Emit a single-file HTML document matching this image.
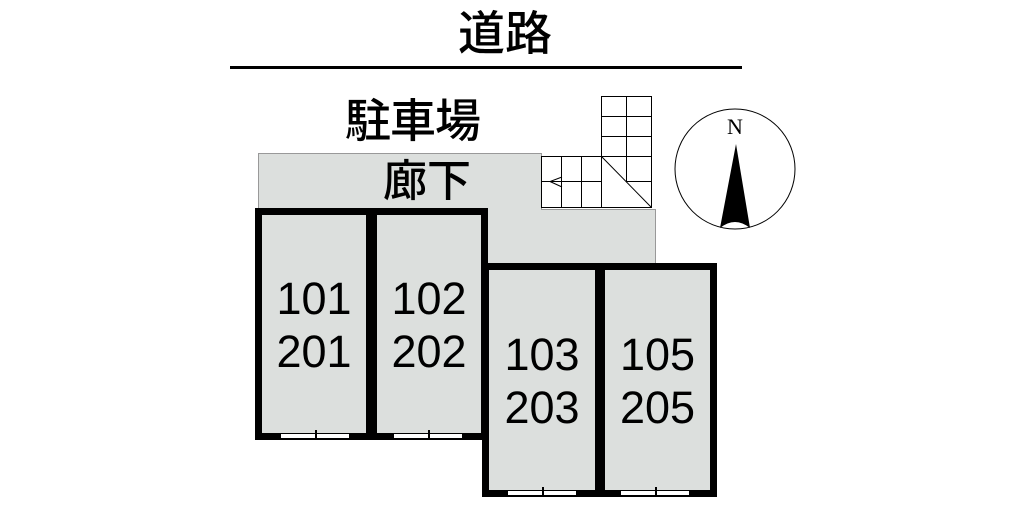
<!DOCTYPE html>
<html><head><meta charset="utf-8"><style>
body{margin:0;width:1024px;height:512px;background:#fff;position:relative;overflow:hidden;font-family:"Liberation Sans","Noto Sans CJK JP",sans-serif}
.a{position:absolute}
.g{background:#dcdfdd}
.u{position:absolute;background:#dcdfdd;border:7px solid #000;box-sizing:border-box}
.t{position:absolute;font-size:45px;line-height:53px;text-align:center;color:#000}
.d{position:absolute;height:6px;background:#fff;border:1.5px solid #000;box-sizing:border-box}
.d:after{content:"";position:absolute;left:50%;top:-4px;width:1.5px;height:10px;background:#000}
.k{font-weight:500}
</style></head><body>
<div class="a" style="left:230px;top:66px;width:512px;height:3px;background:#000"></div>
<div class="a k" style="left:458px;top:6px;font-size:47px;line-height:56px">道路</div>
<div class="a k" style="left:345px;top:94px;font-size:46px;line-height:54px;letter-spacing:-1px">駐車場</div>
<div class="a g" style="left:258px;top:153px;width:284px;height:58px;border:1px solid #999;box-sizing:border-box"></div>
<div class="a g" style="left:488px;top:209px;width:167px;height:56px;border-right:1px solid #999"></div>
<div class="a g" style="left:541px;top:209px;width:114px;height:4px;border-top:1px solid #999;border-right:1px solid #999"></div>
<div class="a k" style="left:383px;top:156px;font-size:44px;line-height:52px">廊下</div>
<svg class="a" style="left:0;top:0" width="1024" height="512">
<g stroke="#000" stroke-width="1" fill="none">
<rect x="541.5" y="156.5" width="110" height="51" fill="#fff"/>
<rect x="601.5" y="96.5" width="50" height="60" fill="#fff"/>
<line x1="561.5" y1="156" x2="561.5" y2="207"/><line x1="581.5" y1="156" x2="581.5" y2="207"/>
<line x1="601.5" y1="156" x2="601.5" y2="207"/><line x1="626.5" y1="96" x2="626.5" y2="181"/>
<line x1="541" y1="181.5" x2="601" y2="181.5"/><line x1="601" y1="116.5" x2="651" y2="116.5"/>
<line x1="601" y1="136.5" x2="651" y2="136.5"/><line x1="601" y1="156.5" x2="651" y2="156.5"/>
<line x1="626" y1="181.5" x2="651" y2="181.5"/>
<line x1="601" y1="156" x2="651" y2="207"/>
<polyline points="562,177 550,181.5 562,187"/>
<circle cx="735" cy="169" r="60"/>
</g>
<text x="735" y="134" font-family="Liberation Serif" font-size="22" text-anchor="middle">N</text>
<path d="M736,144 L750,228 Q735,216 720,228 Z" fill="#000"/>
</svg>
<div class="u" style="left:255px;top:208px;width:118px;height:232px"></div>
<div class="u" style="left:370px;top:208px;width:118px;height:232px"></div>
<div class="u" style="left:482px;top:263px;width:120px;height:234px"></div>
<div class="u" style="left:598px;top:263px;width:119px;height:234px"></div>
<div class="d" style="left:280px;top:433px;width:70px"></div>
<div class="d" style="left:393px;top:433px;width:70px"></div>
<div class="d" style="left:507px;top:490px;width:70px"></div>
<div class="d" style="left:620px;top:490px;width:70px"></div>
<div class="t" style="left:255px;top:272px;width:118px">101<br>201</div>
<div class="t" style="left:370px;top:272px;width:118px">102<br>202</div>
<div class="t" style="left:482px;top:328px;width:120px">103<br>203</div>
<div class="t" style="left:598px;top:328px;width:119px">105<br>205</div>
</body></html>
